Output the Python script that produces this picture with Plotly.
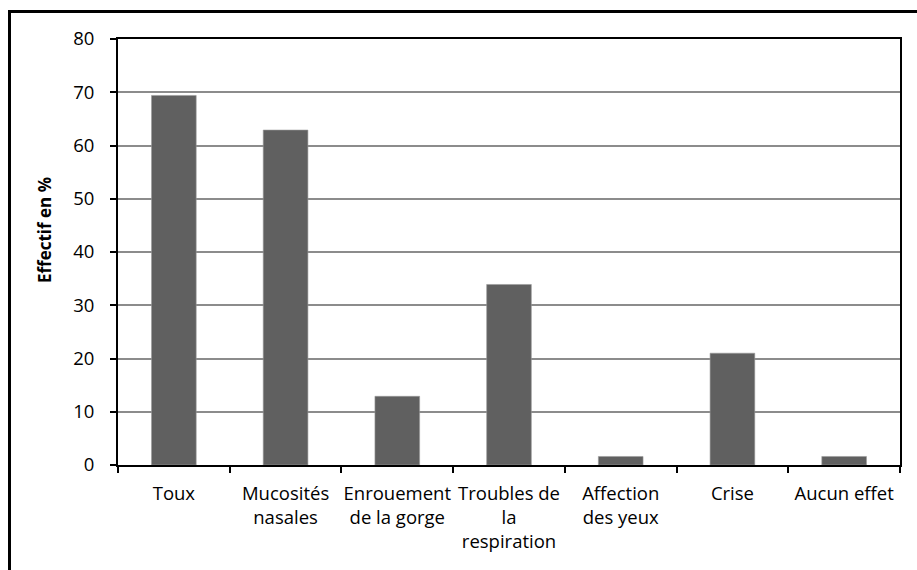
import plotly.graph_objects as go

categories = [
    "Toux",
    "Mucosités<br>nasales",
    "Enrouement<br>de la gorge",
    "Troubles de<br>la<br>respiration",
    "Affection<br>des yeux",
    "Crise",
    "Aucun effet",
]
effectif_pct = [69.4, 62.9, 12.9, 33.9, 1.6, 21.0, 1.6]
y_ticks = [0, 10, 20, 30, 40, 50, 60, 70, 80]

W, H = 917, 570
ML, MR, MT, MB = 118, 17, 39, 105
pw, ph = W - ML - MR, H - MT - MB


def px_x(x):
    return (x - ML) / pw


def px_y(y):
    return (H - MB - y) / ph


font = "Open Sans, DejaVu Sans, sans-serif"
fsize = 18.5

fig = go.Figure(
    go.Bar(
        x=categories,
        y=effectif_pct,
        marker=dict(color="#606060", line=dict(color="#9a9a9a", width=0.6)),
        width=0.4,
    )
)

# outer chart frame: only its top and left edges fall inside the page
frame = dict(color="black", width=3)
frame_shapes = [
    dict(type="line", xref="paper", yref="paper",
         x0=px_x(8), x1=px_x(W), y0=px_y(11.5), y1=px_y(11.5), line=frame),
    dict(type="line", xref="paper", yref="paper",
         x0=px_x(9.5), x1=px_x(9.5), y0=px_y(10), y1=px_y(H), line=frame),
]

fig.update_layout(
    width=W,
    height=H,
    margin=dict(l=ML, r=MR, t=MT, b=MB),
    paper_bgcolor="white",
    plot_bgcolor="white",
    showlegend=False,
    font=dict(family=font, size=fsize, color="#000000"),
    xaxis=dict(
        type="category",
        automargin=False,
        tickangle=0,
        showline=True,
        linecolor="black",
        linewidth=2,
        mirror=True,
        ticks="outside",
        tickson="boundaries",
        ticklen=6,
        tickwidth=1.5,
        tickcolor="black",
        showgrid=False,
        ticklabelstandoff=11,
        tickfont=dict(family=font, size=fsize),
    ),
    yaxis=dict(
        automargin=False,
        range=[0, 80],
        tickvals=y_ticks,
        showline=True,
        linecolor="black",
        linewidth=2,
        mirror=True,
        ticks="outside",
        ticklen=6,
        tickwidth=1.5,
        tickcolor="black",
        showgrid=True,
        gridcolor="#8c8c8c",
        gridwidth=1.5,
        zeroline=False,
        ticklabelstandoff=12,
        tickfont=dict(family=font, size=fsize),
    ),
    annotations=[
        dict(
            text="<b>Effectif en %</b>",
            xref="paper",
            yref="paper",
            x=px_x(44),
            y=px_y(230),
            xanchor="center",
            yanchor="middle",
            textangle=-90,
            showarrow=False,
            font=dict(family=font, size=17),
        )
    ],
    shapes=frame_shapes,
)

fig.write_html("out.html")
